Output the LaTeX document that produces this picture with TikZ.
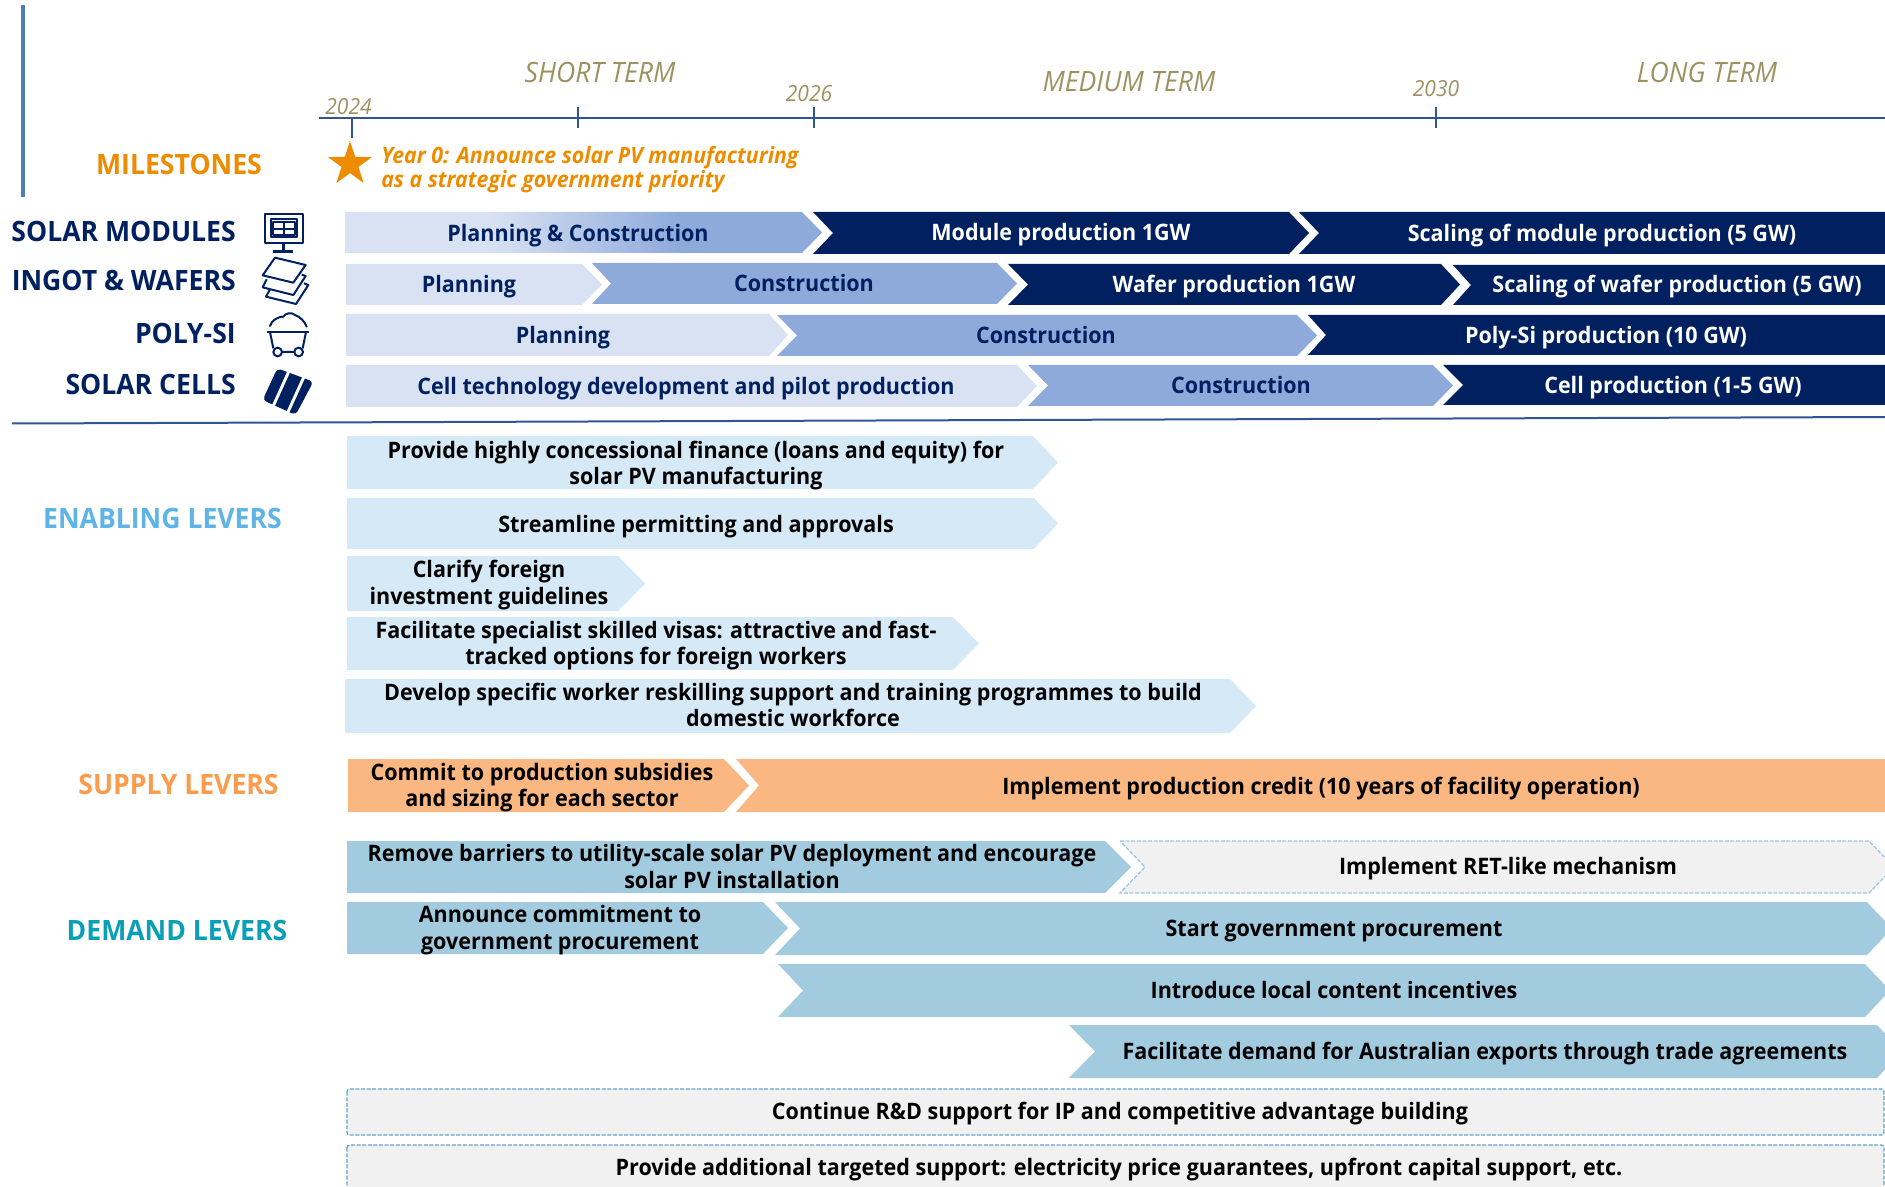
\documentclass[tikz,border=0pt]{standalone}
\usepackage{fontspec}
\setmainfont{Open Sans}[FakeStretch=0.95]
\usetikzlibrary{shapes.geometric}
\definecolor{navy}{HTML}{002060}
\definecolor{lightbar}{HTML}{D9E2F3}
\definecolor{midbar}{HTML}{8EAADB}
\definecolor{enab}{HTML}{D5E9F7}
\definecolor{supp}{HTML}{FAB781}
\definecolor{dem}{HTML}{A2CBDF}
\definecolor{greybox}{HTML}{F1F1F1}
\definecolor{olive}{HTML}{9C9260}
\definecolor{axisblue}{HTML}{2F5597}
\definecolor{sideblue}{HTML}{4F7DBB}
\definecolor{enabt}{HTML}{5FB4E6}
\definecolor{suppt}{HTML}{FB9B4B}
\definecolor{demt}{HTML}{0A9FB5}
\definecolor{milet}{HTML}{EE8C00}
\definecolor{dashc}{HTML}{5BA8CC}
\definecolor{dashl}{HTML}{9CC8DE}
\pgfdeclarehorizontalshading{pcshade}{100bp}{color(0bp)=(lightbar);color(40bp)=(lightbar);color(60bp)=(midbar);color(100bp)=(midbar)}
\newcommand\chevb[7]{\path[#1] (#2,#6) -- (#4,#6) -- (#5,{(#6+#7)/2}) -- (#4,#7) -- (#2,#7) -- (#3,{(#6+#7)/2}) -- cycle;}
\tikzset{
 bartext/.style={inner sep=0pt,align=center,yshift=-1.7pt,font=\fontsize{17}{20}\bfseries,execute at begin node=\strut,execute at end node=\strut},
 navytext/.style={bartext,text=navy},
 whitetext/.style={bartext,text=white},
 blacktext/.style={bartext,text=black},
 headlabel/.style={inner sep=0pt,yshift=-2.3pt,font=\fontsize{21}{24}\bfseries,execute at begin node=\strut},
 termlabel/.style={inner sep=0pt,text=olive,font=\fontsize{21}{24}\itshape},
 yearlabel/.style={inner sep=0pt,text=olive,yshift=-.5pt,font=\fontsize{16.6}{20}\itshape},
 axisline/.style={draw=axisblue,line width=1.5pt},
 tickline/.style={draw=axisblue,line width=1pt},
 icon/.style={draw=navy,line width=1.6pt,line join=round},
 dashedbox/.style={fill=greybox,draw=dashc,line width=1pt,dash pattern=on 3pt off 1.2pt},
 dashedchev/.style={fill=greybox,draw=dashl,line width=1pt,dash pattern=on 3pt off 1.2pt},
}
\begin{document}
\begin{tikzpicture}[x=.75pt,y=-.75pt]
\useasboundingbox (0,0) rectangle (1885,1187);
\clip (0,0) rectangle (1885,1187);
% side line and timeline
\coordinate (sa) at (23,5); \coordinate (sb) at (23,197);
\draw[draw=sideblue,line width=2.4pt] (sa) -- (sb);
\coordinate (axa) at (319,118); \coordinate (axb) at (1885,118);
\draw[axisline] (axa) -- (axb);
\coordinate (t1a) at (352,118); \coordinate (t1b) at (352,138);
\coordinate (t2a) at (578,107); \coordinate (t2b) at (578,128);
\coordinate (t3a) at (814,107); \coordinate (t3b) at (814,128);
\coordinate (t4a) at (1436,107); \coordinate (t4b) at (1436,128);
\draw[tickline] (t1a) -- (t1b);
\draw[tickline] (t2a) -- (t2b);
\draw[tickline] (t3a) -- (t3b);
\draw[tickline] (t4a) -- (t4b);
\node[yearlabel] (y24) at (348.5,106) {2024};
\node[yearlabel] (y26) at (809,93) {2026};
\node[yearlabel] (y30) at (1436,88) {2030};
\node[termlabel] (st) at (600,72) {SHORT TERM};
\node[termlabel] (mt) at (1129,82) {MEDIUM TERM};
\node[termlabel] (lt) at (1707,72) {LONG TERM};
% milestones
\node[headlabel,text=milet] (ml) at (179,165.5) {MILESTONES};
\node[inner sep=0pt,anchor=west,align=left,text=milet,font=\fontsize{16.85}{18}\bfseries\itshape] (mtext) at (381,170) {Year 0: Announce solar PV manufacturing\\as a strategic government priority};
\node[star,star points=5,star point ratio=2.6,fill=milet,inner sep=0pt,minimum size=34.8pt] (star0) at (350,164.2) {};
% sector labels
\node[headlabel,text=navy,anchor=east] (l1) at (236,232) {SOLAR MODULES};
\node[headlabel,text=navy,anchor=east] (l2) at (236,281) {INGOT \& WAFERS};
\node[headlabel,text=navy,anchor=east] (l3) at (236,334) {POLY-SI};
\node[headlabel,text=navy,anchor=east] (l4) at (236,385) {SOLAR CELLS};
% row 1
\chevb{shading=pcshade}{345}{345}{802}{822}{212}{253}
\chevb{fill=navy}{813}{833}{1289}{1309}{212}{254}
\chevb{fill=navy}{1299}{1319}{1900}{1900}{212}{254}
\node[navytext] (r1a) at (578,233.5) {Planning \& Construction};
\node[whitetext] (r1b) at (1061,233) {Module production 1GW};
\node[whitetext] (r1c) at (1602,234) {Scaling of module production (5 GW)};
% row 2
\chevb{fill=lightbar}{346}{346}{582}{602}{264}{305}
\chevb{fill=midbar}{592}{611}{997}{1017}{263}{304}
\chevb{fill=navy}{1008}{1028}{1441}{1460}{264}{305}
\chevb{fill=navy}{1453}{1471}{1900}{1900}{265}{305}
\node[navytext] (r2a) at (469,285) {Planning};
\node[navytext] (r2b) at (804,284) {Construction};
\node[whitetext] (r2c) at (1234,285) {Wafer production 1GW};
\node[whitetext] (r2d) at (1677,285) {Scaling of wafer production (5 GW)};
% row 3
\chevb{fill=lightbar}{346}{346}{769}{788}{314}{356}
\chevb{fill=midbar}{777}{797}{1297}{1317}{315}{356}
\chevb{fill=navy}{1308}{1326}{1900}{1900}{315}{355}
\node[navytext] (r3a) at (563,336) {Planning};
\node[navytext] (r3b) at (1046,336) {Construction};
\node[whitetext] (r3c) at (1606,336) {Poly-Si production (10 GW)};
% row 4
\chevb{fill=lightbar}{346}{346}{1017}{1037}{365}{407}
\chevb{fill=midbar}{1028}{1048}{1433}{1453}{365}{406}
\chevb{fill=navy}{1443}{1463}{1900}{1900}{365}{405}
\node[navytext] (r4a) at (686,387) {Cell technology development and pilot production};
\node[navytext] (r4b) at (1241,386) {Construction};
\node[whitetext] (r4c) at (1673,386) {Cell production (1-5 GW)};
% divider
\coordinate (da) at (12,423.5); \coordinate (db) at (1885,417);
\draw[axisline] (da) -- (db);
% enabling
\node[headlabel,text=enabt] (el) at (162.5,519.5) {ENABLING LEVERS};
\chevb{fill=enab}{347}{347}{1033}{1058}{436}{489}
\chevb{fill=enab}{347}{347}{1034}{1058}{498}{549}
\chevb{fill=enab}{347}{347}{618}{645}{556}{611}
\chevb{fill=enab}{347}{347}{953}{979}{617}{670}
\chevb{fill=enab}{345}{345}{1230}{1256}{679}{733}
\node[blacktext] (e1) at (696,464.5) {Provide highly concessional finance (loans and equity) for\\solar PV manufacturing};
\node[blacktext] (e2) at (696,524.5) {Streamline permitting and approvals};
\node[blacktext] (e3) at (489,584) {Clarify foreign\\investment guidelines};
\node[blacktext] (e4) at (656,644.5) {Facilitate specialist skilled visas: attractive and fast-\\tracked options for foreign workers};
\node[blacktext] (e5) at (793,706.5) {Develop specific worker reskilling support and training programmes to build\\domestic workforce};
% supply
\node[headlabel,text=suppt] (sl) at (178.5,785) {SUPPLY LEVERS};
\chevb{fill=supp}{348}{348}{724}{749}{759}{812}
\chevb{fill=supp}{736}{759}{1900}{1900}{759}{812}
\node[blacktext] (s1) at (542,786.5) {Commit to production subsidies\\and sizing for each sector};
\node[blacktext] (s2) at (1321,787) {Implement production credit (10 years of facility operation)};
% demand
\node[headlabel,text=demt] (dl) at (177,931) {DEMAND LEVERS};
\chevb{fill=dem}{347}{347}{1105}{1131}{841}{893}
\chevb{dashedchev}{1120}{1145}{1869}{1894}{841}{893}
\chevb{fill=dem}{347}{347}{763}{788}{902}{954}
\chevb{fill=dem}{775}{800}{1867}{1892}{902}{955}
\chevb{fill=dem}{778}{803}{1865}{1890}{964}{1017}
\chevb{fill=dem}{1069}{1095}{1877}{1902}{1025}{1078}
\node[blacktext] (d1) at (732,868) {Remove barriers to utility-scale solar PV deployment and encourage\\solar PV installation};
\node[blacktext] (d2) at (560,929) {Announce commitment to\\government procurement};
\node[blacktext] (d3) at (1508,867) {Implement RET-like mechanism};
\node[blacktext] (d4) at (1334,928.5) {Start government procurement};
\node[blacktext] (d5) at (1334,990.5) {Introduce local content incentives};
\node[blacktext] (d6) at (1485,1051.5) {Facilitate demand for Australian exports through trade agreements};
% dashed boxes
\path[dashedbox,rounded corners=2pt] (347,1089) rectangle (1884,1135);
\path[dashedbox,rounded corners=2pt] (347,1145) rectangle (1884,1200);
\node[blacktext] (b1) at (1120,1111.5) {Continue R\&D support for IP and competitive advantage building};
\node[blacktext] (b2) at (1119,1167.5) {Provide additional targeted support: electricity price guarantees, upfront capital support, etc.};
% icons
\begin{scope}[shift={(240,200)},x=.25pt,y=-.25pt]
 \draw[icon] (75,42) rectangle (188,128);
 \draw[icon,line width=1.5pt] (92,58) rectangle (172,112);
 \draw[icon,line width=1.5pt] (100,67) rectangle (164,105) (132,67) -- (132,105) (100,86) -- (164,86);
 \draw[icon,line width=2pt] (130,128) -- (130,155) (100,155) -- (160,155);
 \draw[icon,line width=1.5pt] (105,173) -- (197,195) -- (160,248) -- (68,226) -- cycle;
 \draw[icon,line width=1.5pt] (80,238) -- (68,262) -- (160,285) -- (197,228) -- (185,224);
 \draw[icon,line width=1.5pt] (90,268) -- (78,290) -- (168,312) -- (205,255) -- (192,250);
 \draw[icon,line width=1.5pt,line cap=round] (90,378) .. controls (95,360) and (115,350) .. (130,350) .. controls (135,340) and (155,335) .. (165,345) .. controls (180,350) and (195,365) .. (200,380);
 \draw[icon,line width=2.2pt] (80,396) -- (208,396);
 \draw[icon,line width=1.5pt] (90,396) -- (100,445) (198,396) -- (188,445);
 \draw[icon,line width=1.5pt] (113,456) circle (13) (176,456) circle (13) (128,456) -- (161,456);
 \fill[navy,rounded corners=3pt] (112,505) -- (220,545) -- (167,645) -- (68,600) -- cycle;
 \draw[white,line width=2.2pt] (147,513) -- (98,622);
 \draw[white,line width=2.2pt] (193,528) -- (143,638);
\end{scope}
\end{tikzpicture}
\end{document}
